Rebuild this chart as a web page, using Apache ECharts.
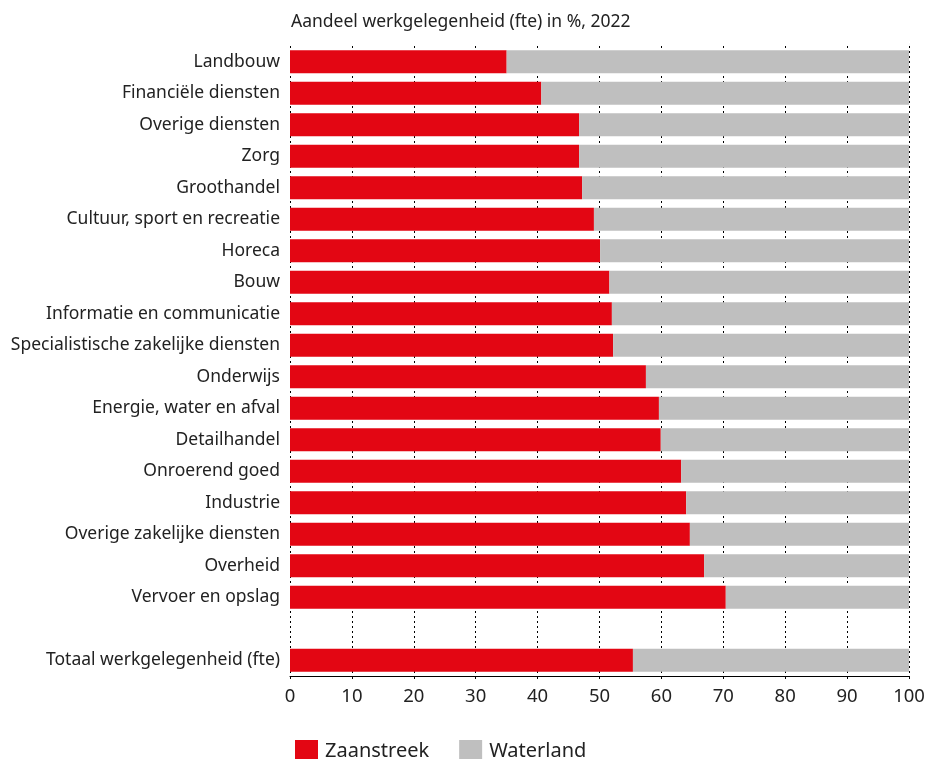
<!DOCTYPE html>
<html>
<head>
<meta charset="utf-8">
<script src="https://cdn.jsdelivr.net/npm/echarts@6/dist/echarts.min.js"></script>
<style>html,body{margin:0;padding:0;background:#fff}#c{width:928px;height:759px}</style>
</head>
<body>
<div id="c"></div>
<script>
const categories = ["Landbouw","Financiële diensten","Overige diensten","Zorg","Groothandel","Cultuur, sport en recreatie","Horeca","Bouw","Informatie en communicatie","Specialistische zakelijke diensten","Onderwijs","Energie, water en afval","Detailhandel","Onroerend goed","Industrie","Overige zakelijke diensten","Overheid","Vervoer en opslag","","Totaal werkgelegenheid (fte)"];
const zaanstreek = [35.0,40.6,46.7,46.7,47.2,49.1,50.1,51.6,52.0,52.2,57.5,59.6,59.9,63.2,64.0,64.6,66.9,70.4,null,55.4];
const waterland  = [65.0,59.4,53.3,53.3,52.8,50.9,49.9,48.4,48.0,47.8,42.5,40.4,40.1,36.8,36.0,35.4,33.1,29.6,null,44.6];
const xTicks = [0,10,20,30,40,50,60,70,80,90,100];
const titleText = "Aandeel werkgelegenheid (fte) in %, 2022";

const FONT = "Noto Sans";
const chart = echarts.init(document.getElementById('c'));
chart.setOption({
  animation:false,
  textStyle:{fontFamily:FONT},
  title:{text:titleText,left:286,top:8,textStyle:{fontFamily:FONT,fontSize:17.5,fontWeight:'normal',color:'#222'}},
  legend:{
    data:['Zaanstreek','Waterland'],left:290,top:735,itemWidth:23,itemHeight:23,itemGap:30,
    icon:'rect',textStyle:{fontFamily:FONT,fontSize:20,color:'#222',padding:[4,0,0,2]}
  },
  grid:{left:290,right:19,top:46,bottom:83,containLabel:false},
  xAxis:{
    type:'value',min:0,max:100,interval:10,
    axisLine:{show:true,lineStyle:{color:'#000',width:1}},
    axisTick:{show:true,length:3,lineStyle:{color:'#000'}},
    axisLabel:{fontFamily:FONT,fontSize:18.5,color:'#222',margin:11,formatter:v=>xTicks.includes(v)?String(v):''},
    splitLine:{show:true,lineStyle:{color:'#000',type:[2,3],width:1}}
  },
  yAxis:{
    type:'category',data:categories,inverse:true,
    axisLine:{show:false},axisTick:{show:false},
    axisLabel:{fontFamily:FONT,fontSize:17.5,color:'#222',margin:10}
  },
  series:[
    {name:'Zaanstreek',type:'bar',stack:'a',data:zaanstreek,barCategoryGap:'27%',itemStyle:{color:'#E30613'}},
    {name:'Waterland',type:'bar',stack:'a',data:waterland,itemStyle:{color:'#BFBFBF'}}
  ]
});
</script>
</body>
</html>
